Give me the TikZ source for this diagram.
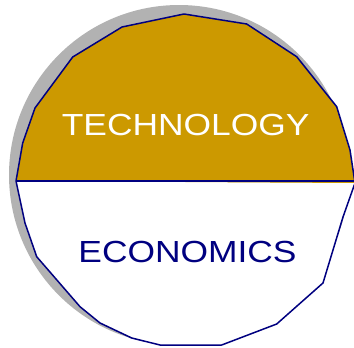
\documentclass[tikz,border=0pt]{standalone}
\usepackage{fontspec}
\setmainfont{Liberation Sans}
\usetikzlibrary{positioning}
\definecolor{gold}{RGB}{204,153,0}
\definecolor{navy}{RGB}{0,0,128}

\begin{document}
\begin{tikzpicture}[x=1pt,y=-1pt,
  rim/.style={draw=navy,line width=1.5pt,line join=round},
  label/.style={anchor=base,font=\fontsize{30.5}{36}\selectfont,xscale=1.16,transform shape}]
\useasboundingbox (0,0) rectangle (354,348);
\clip (0,0) rectangle (354,348);
\fill[black!30] (179,175) circle (170);
\fill[white] (16,181) -- (25,223) -- (36.7,256.7) -- (80,306.7) -- (100,323) -- (131.7,338) -- (160,345) -- (221.7,345) -- (276.7,324) -- (323,283) -- (343,217) -- (355,183) -- cycle;
\fill[gold] (16,181) -- (22.7,143) -- (35,108) -- (72.7,57) -- (122,27) -- (184,14) -- (246.7,24) -- (296.7,56.7) -- (336.7,106.7) -- (350,150) -- (355,183) -- cycle;
\draw[rim] (16,181) -- (22.7,143) -- (35,108) -- (72.7,57) -- (122,27) -- (184,14) -- (246.7,24) -- (296.7,56.7) -- (336.7,106.7) -- (350,150) -- (355,183) -- (343,217) -- (323,283) -- (276.7,324) -- (221.7,345) -- (160,345) -- (131.7,338) -- (100,323) -- (80,306.7) -- (36.7,256.7) -- (25,223) -- cycle;
\draw[rim] (16,181) -- (355,181);
\node[label,text=white] at (185.7,135)(tech){TECHNOLOGY};
\node[label,text=navy] at (187.5,262.7)(econ){ECONOMICS};
\end{tikzpicture}
\end{document}
